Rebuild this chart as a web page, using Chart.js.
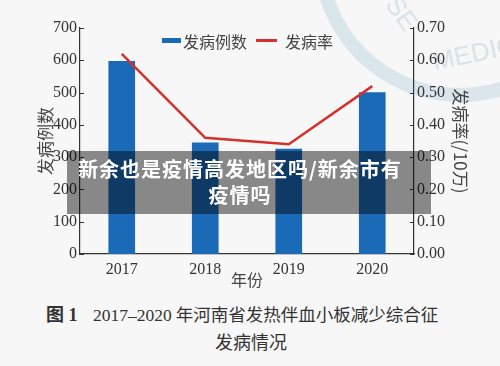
<!DOCTYPE html>
<html lang="zh">
<head>
<meta charset="UTF-8" />
<title>2017-2020年河南省发热伴血小板减少综合征发病情况</title>
<script src="https://cdn.jsdelivr.net/npm/chart.js"></script>
<style>
  body { margin: 0; background: #f8f7f7; }
  #wrap { position: relative; width: 500px; height: 366px; overflow: hidden; font-family: "Liberation Serif", "Noto Sans CJK SC", serif; color: #333; }
  #chart { position: absolute; left: 0; top: 0; }
  .ring { position: absolute; left: 313px; top: -192px; width: 266px; height: 266px; border: 14px solid rgba(165, 198, 216, 0.35); border-radius: 50%; }
  .wm { position: absolute; color: rgba(160, 195, 214, 0.4); font-family: "Liberation Sans", sans-serif; font-size: 26px; }
  .leg { position: absolute; top: 31px; line-height: 20px; font-size: 16px; font-family: "Noto Sans CJK SC", sans-serif; color: #444; }
  .sw { position: absolute; }
  #overlay { position: absolute; left: 67px; top: 151px; width: 364px; height: 63px; background: rgba(0, 0, 0, 0.45); }
  .ov { position: absolute; left: 0; width: 346px; text-align: center; color: #fff; font-family: "Noto Sans CJK SC", sans-serif; font-weight: bold; font-size: 20px; letter-spacing: 1px; line-height: 26px; }
  .cap { position: absolute; line-height: 24px; white-space: nowrap; }
</style>
</head>
<body>
<div id="wrap">
  <div class="ring"></div>
  <div class="wm" style="left:384px;top:-2px;transform:rotate(55deg);">SE</div>
  <div class="wm" style="left:432px;top:38px;transform:rotate(-12deg);">MEDIC</div>

  <canvas id="chart" width="500" height="290"></canvas>

  <div class="sw" style="left:162px;top:38px;width:19px;height:5px;background:#1b6ab8;"></div>
  <div class="leg" style="left:183px;">发病例数</div>
  <div class="sw" style="left:256px;top:39px;width:21px;height:2.5px;background:#d5312c;"></div>
  <div class="leg" style="left:285px;">发病率</div>

  <div id="overlay">
    <div class="ov" style="top:5px;">新余也是疫情高发地区吗/新余市有</div>
    <div class="ov" style="top:31px;">疫情吗</div>
  </div>

  <div class="cap" style="left:46px;top:303px;font-size:18px;font-weight:bold;">图 1</div>
  <div class="cap" style="left:93px;top:303px;font-size:17.5px;">2017–2020<span style="margin-left:4px;">年河南省发热伴血小板减少综合征</span></div>
  <div class="cap" style="left:215px;top:331px;font-size:18px;">发病情况</div>
</div>

<script>
// data
const years = ['2017', '2018', '2019', '2020'];
const cases = [597, 344, 325, 500];          // 发病例数
const rates = [0.62, 0.36, 0.34, 0.52];      // 发病率 (/10万)

const tickFont = { family: "'Liberation Serif', serif", size: 16 };
const titleFont = { family: "'Noto Sans CJK SC', sans-serif", size: 17 };

// short tick marks pointing into the plot area
const innerTicks = {
  id: 'innerTicks',
  afterDraw(chart) {
    const ctx = chart.ctx;
    const area = chart.chartArea;
    ctx.save();
    ctx.strokeStyle = '#333';
    ctx.lineWidth = 1;
    [['y', area.left, 1], ['y1', area.right, -1]].forEach(([id, x, dir]) => {
      const s = chart.scales[id];
      s.ticks.forEach(t => {
        const py = Math.round(s.getPixelForValue(t.value)) + 0.5;
        ctx.beginPath();
        ctx.moveTo(x, py);
        ctx.lineTo(x + dir * 4, py);
        ctx.stroke();
      });
    });
    ctx.restore();
  }
};

new Chart(document.getElementById('chart'), {
  data: {
    labels: years,
    datasets: [
      {
        type: 'line',
        label: '发病率',
        data: rates,
        yAxisID: 'y1',
        borderColor: '#d5312c',
        borderWidth: 2.5,
        pointRadius: 0,
        tension: 0,
        order: 0
      },
      {
        type: 'bar',
        label: '发病例数',
        data: cases,
        yAxisID: 'y',
        backgroundColor: '#1b6ab8',
        barThickness: 26,
        order: 1
      }
    ]
  },
  plugins: [innerTicks],
  options: {
    responsive: false,
    animation: false,
    layout: { padding: { top: 28, left: 0, right: 0, bottom: 0 } },
    plugins: { legend: { display: false }, tooltip: { enabled: false } },
    scales: {
      x: {
        offset: true,
        grid: { display: false, drawTicks: false },
        border: { display: true, color: '#333', width: 1.2 },
        ticks: { font: tickFont, color: '#333', padding: 6 },
        title: { display: true, text: '年份', font: { family: titleFont.family, size: 16 }, color: '#444', padding: { top: 0, bottom: 0 } },
        afterFit(s) { s.height = 36; }
      },
      y: {
        position: 'left',
        min: 0, max: 700,
        grid: { display: false, drawTicks: false },
        border: { display: true, color: '#333', width: 1.2 },
        ticks: { stepSize: 100, font: tickFont, color: '#333', padding: 3 },
        title: { display: true, text: '发病例数', font: titleFont, color: '#444', padding: { top: 35, bottom: 0 } },
        afterFit(s) { s.width = 80; }
      },
      y1: {
        position: 'right',
        min: 0, max: 0.7,
        grid: { display: false, drawTicks: false },
        border: { display: true, color: '#333', width: 1.2 },
        ticks: { stepSize: 0.1, font: tickFont, color: '#333', padding: 3, callback: v => v.toFixed(2) },
        title: { display: true, text: '发病率(/10万)', font: titleFont, color: '#444', padding: { top: 29, bottom: 0 } },
        afterFit(s) { s.width = 86; }
      }
    }
  }
});
</script>
</body>
</html>
